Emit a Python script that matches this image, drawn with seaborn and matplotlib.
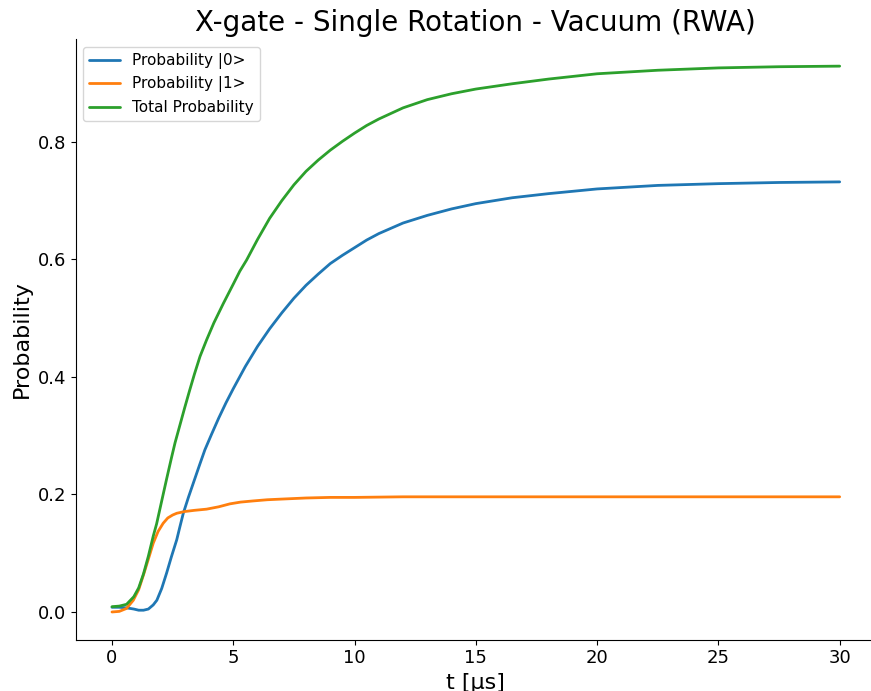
import matplotlib
matplotlib.use("Agg")
import matplotlib.pyplot as plt
import seaborn as sns
import pandas as pd

# Populations of the qubit levels during a single X rotation (time in microseconds)
t_p0 = [0.0, 0.3, 0.6, 0.9, 1.1, 1.3, 1.5, 1.7, 1.85, 2.05, 2.25, 2.45, 2.67,
        2.8, 2.94, 3.15, 3.35, 3.6, 3.83, 4.1, 4.4, 4.7, 5.0, 5.5, 6.0, 6.5,
        7.0, 7.5, 8.0, 8.5, 9.0, 9.5, 10.0, 10.5, 11.0, 12.0, 13.0, 14.0,
        15.0, 16.5, 18.0, 20.0, 22.5, 25.0, 27.5, 30.0]
p0 = [0.008, 0.008, 0.007, 0.005, 0.003, 0.003, 0.005, 0.012, 0.020, 0.040,
      0.066, 0.094, 0.123, 0.145, 0.168, 0.195, 0.219, 0.249, 0.276, 0.302,
      0.330, 0.356, 0.380, 0.418, 0.452, 0.482, 0.509, 0.534, 0.556, 0.575,
      0.593, 0.607, 0.620, 0.633, 0.644, 0.662, 0.675, 0.686, 0.695, 0.705,
      0.712, 0.720, 0.726, 0.729, 0.731, 0.732]

t_p1 = [0.0, 0.3, 0.6, 0.88, 1.1, 1.29, 1.5, 1.7, 1.9, 2.11, 2.3, 2.5, 2.67,
        3.0, 3.4, 3.9, 4.4, 4.86, 5.3, 5.82, 6.4, 6.92, 8.0, 9.0, 10.0, 12.0,
        15.0, 20.0, 25.0, 30.0]
p1 = [0.000, 0.001, 0.006, 0.020, 0.038, 0.062, 0.090, 0.117, 0.137, 0.151,
      0.160, 0.165, 0.168, 0.171, 0.173, 0.175, 0.179, 0.184, 0.187, 0.189,
      0.191, 0.192, 0.194, 0.195, 0.195, 0.196, 0.196, 0.196, 0.196, 0.196]

t_tot = [0.0, 0.3, 0.6, 0.9, 1.1, 1.3, 1.5, 1.7, 1.84, 2.05, 2.25, 2.45, 2.6,
         2.8, 3.0, 3.2, 3.4, 3.63, 3.9, 4.2, 4.59, 5.0, 5.27, 5.55, 6.0, 6.5,
         7.0, 7.5, 8.0, 8.5, 9.0, 9.5, 10.0, 10.5, 11.0, 12.0, 13.0, 14.0,
         15.0, 16.5, 18.0, 20.0, 22.5, 25.0, 27.5, 30.0]
p_tot = [0.009, 0.010, 0.013, 0.026, 0.041, 0.065, 0.095, 0.129, 0.150, 0.189,
         0.226, 0.262, 0.288, 0.318, 0.348, 0.377, 0.405, 0.435, 0.463, 0.492,
         0.525, 0.558, 0.580, 0.599, 0.634, 0.670, 0.700, 0.727, 0.750, 0.769,
         0.786, 0.801, 0.815, 0.828, 0.839, 0.858, 0.872, 0.882, 0.890, 0.899,
         0.907, 0.916, 0.922, 0.926, 0.928, 0.929]

series = [("Probability |0>", t_p0, p0),
          ("Probability |1>", t_p1, p1),
          ("Total Probability", t_tot, p_tot)]

df = pd.concat(
    [pd.DataFrame({"t": t, "p": p, "label": name}) for name, t, p in series],
    ignore_index=True,
)

sns.set_style("ticks")
plt.rcParams.update({
    "font.family": ["DejaVu Sans"],
    "text.color": "black",
    "axes.labelcolor": "black",
    "axes.edgecolor": "black",
    "xtick.color": "black",
    "ytick.color": "black",
})

fig = plt.figure(figsize=(8.71, 6.91), dpi=100)
ax = fig.add_axes([0.0868, 0.0744, 0.919, 0.869])

sns.lineplot(data=df, x="t", y="p", hue="label",
             palette=["#1f77b4", "#ff7f0e", "#2ca02c"],
             linewidth=2, ax=ax, sort=False, estimator=None)

ax.set_xlim(-1.5, 31.5)
ax.set_ylim(-0.047, 0.975)
ax.set_xticks([0, 5, 10, 15, 20, 25, 30])
ax.set_yticks([0.0, 0.2, 0.4, 0.6, 0.8])
ax.tick_params(labelsize=13)
ax.set_title("X-gate - Single Rotation - Vacuum (RWA)", fontsize=20)
ax.set_xlabel("t [μs]", fontsize=16)
ax.set_ylabel("Probability", fontsize=16)
sns.despine(ax=ax)
ax.legend(loc="upper left", fontsize=11, title=None)

fig.savefig("out.png", dpi=100)
